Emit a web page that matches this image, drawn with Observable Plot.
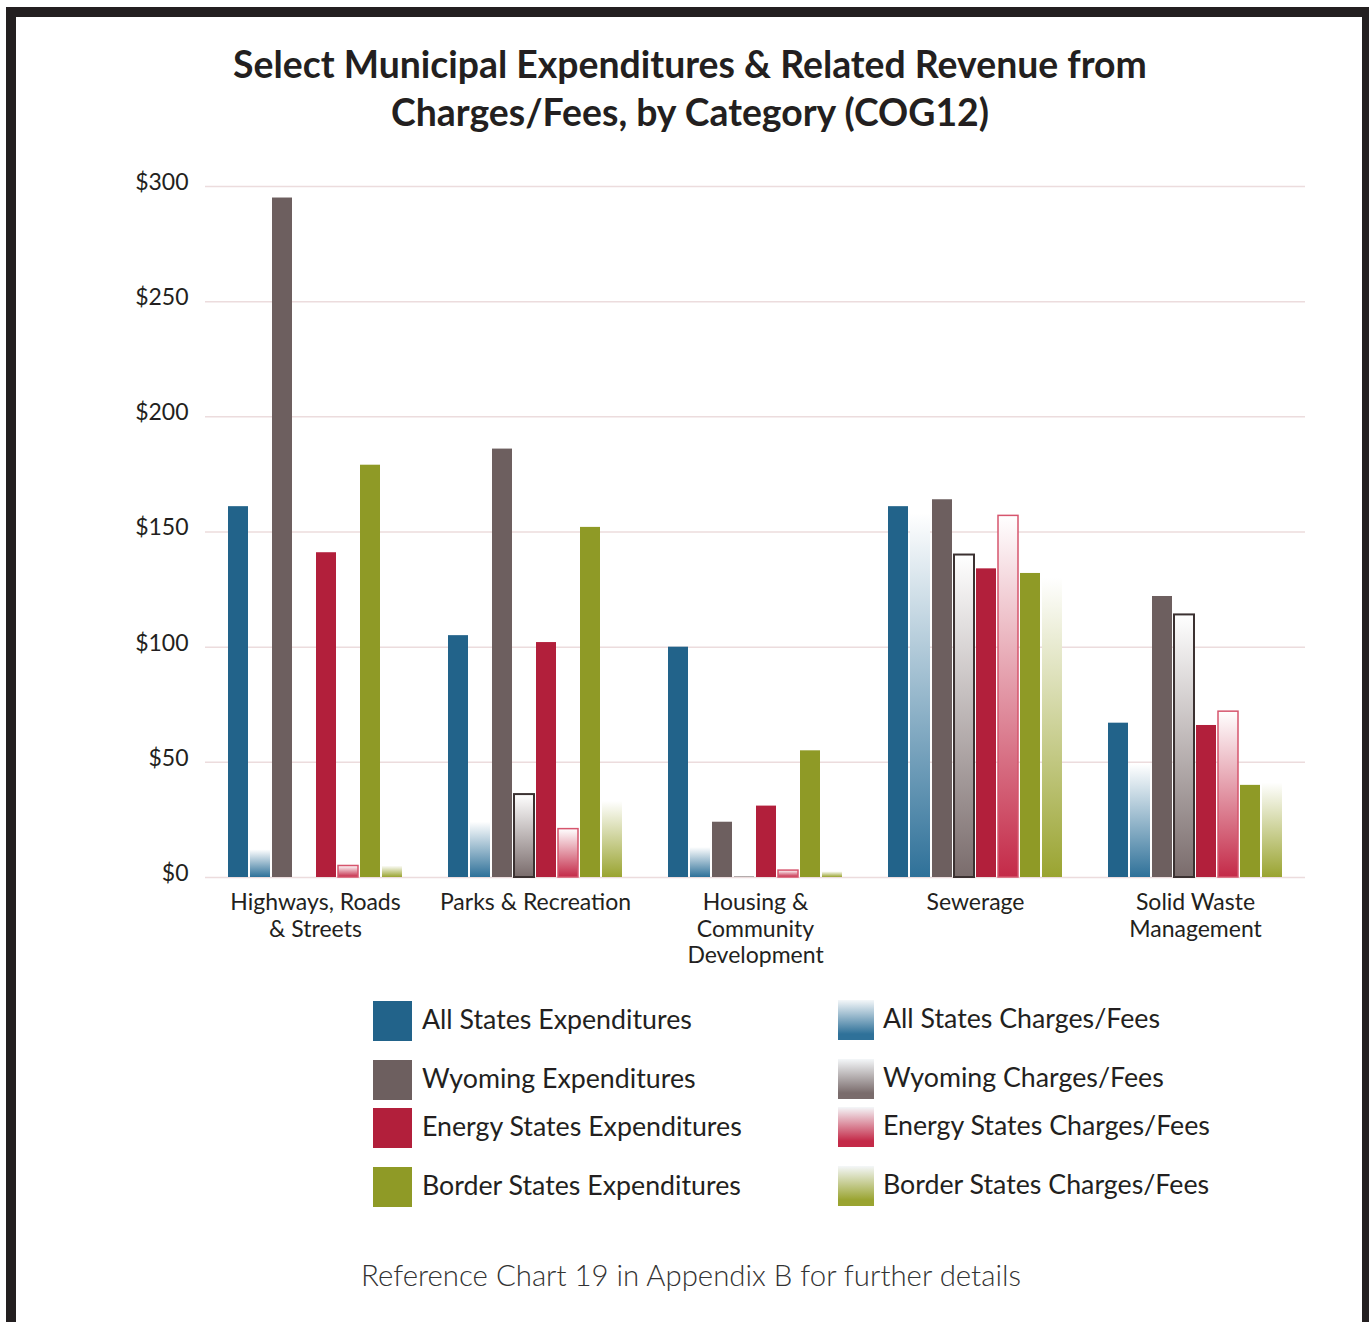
<!DOCTYPE html>
<html><head><meta charset="utf-8">
<script src="https://cdn.jsdelivr.net/npm/d3@7"></script>
<script src="https://cdn.jsdelivr.net/npm/@observablehq/plot@0.6"></script>
<style>
html,body{margin:0;padding:0;background:#fff;width:1369px;height:1322px;overflow:hidden;position:relative;}
#frame{position:absolute;left:6px;top:7px;width:1346px;height:1400px;border:10px solid #231f20;}
.abs{position:absolute;white-space:nowrap;}
.title{font-family:Lato,sans-serif;font-weight:700;color:#231f20;line-height:1.2;}
.leg{font-family:Lato,sans-serif;color:#231f20;line-height:1.2;}
.sw{position:absolute;}
#chart{position:absolute;left:0;top:160px;}
.caption{font-family:Lato,sans-serif;font-weight:300;color:#333;line-height:1.2;}
</style></head>
<body>
<div id="frame"></div>
<div id="chart"></div>
<svg width="0" height="0" style="position:absolute"><defs id="defs"></defs></svg>
<script>
// ---- data ----
const categories = ["Highways, Roads & Streets", "Parks & Recreation", "Housing & Community Development", "Sewerage", "Solid Waste Management"];
const categoryLabels = ["Highways, Roads\n& Streets", "Parks & Recreation", "Housing &\nCommunity\nDevelopment", "Sewerage", "Solid Waste\nManagement"];
const seriesNames = ["All States Expenditures", "All States Charges/Fees", "Wyoming Expenditures", "Wyoming Charges/Fees", "Energy States Expenditures", "Energy States Charges/Fees", "Border States Expenditures", "Border States Charges/Fees"];
const allStatesExp   = [161, 105, 100, 161, 67];
const allStatesFees  = [12, 24, 13, 158, 49];
const wyomingExp     = [295, 186, 24, 164, 122];
const wyomingFees    = [0, 36, 0.5, 140, 114];
const energyExp      = [141, 102, 31, 134, 66];
const energyFees     = [5, 21, 3, 157, 72];
const borderExp      = [179, 152, 55, 132, 40];
const borderFees     = [5, 33, 2.5, 130, 41];
const yTicks = [0, 50, 100, 150, 200, 250, 300];
const title = ["Select Municipal Expenditures & Related Revenue from", "Charges/Fees, by Category (COG12)"];
const caption = "Reference Chart 19 in Appendix B for further details";

// ---- styles ----
const seriesValues = [allStatesExp, allStatesFees, wyomingExp, wyomingFees, energyExp, energyFees, borderExp, borderFees];
const baseColors = ["#22638a", "#2f7199", "#6d5f5f", "#7a6c6c", "#b21f3b", "#c42a48", "#8f9a26", "#9aa431"];
const isFees = seriesNames.map(s => s.includes("Charges"));

const defs = document.getElementById("defs");
const fills = seriesNames.map((s, j) => {
  if (!isFees[j]) return baseColors[j];
  const id = "g" + j;
  const ns = "http://www.w3.org/2000/svg";
  const g = document.createElementNS(ns, "linearGradient");
  g.setAttribute("id", id); g.setAttribute("x1", 0); g.setAttribute("y1", 0); g.setAttribute("x2", 0); g.setAttribute("y2", 1);
  [["0%", "#ffffff", 1], ["100%", baseColors[j], 1]].forEach(([o, c, op]) => {
    const st = document.createElementNS(ns, "stop");
    st.setAttribute("offset", o); st.setAttribute("stop-color", c); st.setAttribute("stop-opacity", op);
    g.appendChild(st);
  });
  defs.appendChild(g);
  return `url(#${id})`;
});

const rows = categories.flatMap((c, i) => seriesNames.map((s, j) => ({category: c, series: s, value: seriesValues[j][i]})));
const labelOf = new Map(categories.map((c, i) => [c, categoryLabels[i]]));

const chart = Plot.plot({
  width: 1369, height: 820,
  marginLeft: 205, marginRight: 64, marginTop: 26, marginBottom: 103,
  style: {fontFamily: "Lato, sans-serif", fontSize: "23px", color: "#231f20", background: "transparent", overflow: "visible"},
  fx: {domain: categories, padding: 0, label: null},
  x: {domain: seriesNames, paddingInner: 0.1, paddingOuter: 0.94, axis: null},
  y: {domain: [0, 300], label: null},
  color: {domain: seriesNames, range: fills},
  marks: [
    Plot.gridY(yTicks, {stroke: "#ecdcdd", strokeOpacity: 1, strokeWidth: 1.5}),
    Plot.barY(rows, {fx: "category", x: "series", y: "value", fill: "series"}),
    Plot.barY(rows.filter(d => d.series === "Wyoming Charges/Fees" && d.value > 2), {fx: "category", x: "series", y: "value", fill: "none", stroke: "#3b3131", strokeWidth: 2}),
    Plot.barY(rows.filter(d => d.series === "Energy States Charges/Fees" && d.value > 2), {fx: "category", x: "series", y: "value", fill: "none", stroke: "#d6556d", strokeWidth: 1.5}),
    Plot.axisY(yTicks, {anchor: "left", tickSize: 0, tickPadding: 17, dy: -4, tickFormat: d => "$" + d, fill: "#231f20"}),
    Plot.axisFx({anchor: "bottom", tickSize: 0, tickPadding: 13, lineHeight: 1.17, tickFormat: c => labelOf.get(c), fill: "#231f20"})
  ]
});
document.getElementById("chart").appendChild(chart);

// ---- text blocks ----
function addText(text, cls, left, baseline, fs, align) {
  const el = document.createElement("div");
  el.className = "abs " + cls;
  el.textContent = text;
  el.style.fontSize = fs + "px";
  document.body.appendChild(el);
  const w = el.getBoundingClientRect().width;
  let x = left;
  if (align === "center") x = left - w / 2;
  el.style.left = x + "px";
  el.style.top = (baseline - 0.987 * fs - 0.1 * fs) + "px";
  return el;
}
function fitSize(text, cls, fs, target) {
  const el = document.createElement("span");
  el.className = "abs " + cls; el.textContent = text; el.style.fontSize = fs + "px";
  document.body.appendChild(el);
  const w = el.getBoundingClientRect().width; el.remove();
  return fs * target / w;
}
const tfs = fitSize(title[0], "title", 36, 914);
addText(title[0], "title", 690, 83, tfs, "center");
addText(title[1], "title", 690, 131, tfs, "center");

const lfs = fitSize(seriesNames[0], "leg", 24, 270);
const rowBase = [1032, 1091, 1139, 1198];
const expIdx = [0, 2, 4, 6];
expIdx.forEach((j, r) => {
  const sw = document.createElement("div");
  sw.className = "sw";
  Object.assign(sw.style, {left: "373px", top: (rowBase[r] - 31) + "px", width: "39px", height: "40px", background: baseColors[j]});
  document.body.appendChild(sw);
  addText(seriesNames[j], "leg", 422, rowBase[r], lfs);
  const k = j + 1;
  const sw2 = document.createElement("div");
  sw2.className = "sw";
  Object.assign(sw2.style, {left: "838px", top: (rowBase[r] - 32) + "px", width: "36px", height: "40px", background: `linear-gradient(to bottom, #f4f7f9, ${baseColors[k]} 85%)`});
  document.body.appendChild(sw2);
  addText(seriesNames[k], "leg", 883, rowBase[r] - 1, lfs);
});

const cfs = fitSize(caption, "caption", 28, 660);
addText(caption, "caption", 691, 1289, cfs, "center");
</script>
</body></html>
